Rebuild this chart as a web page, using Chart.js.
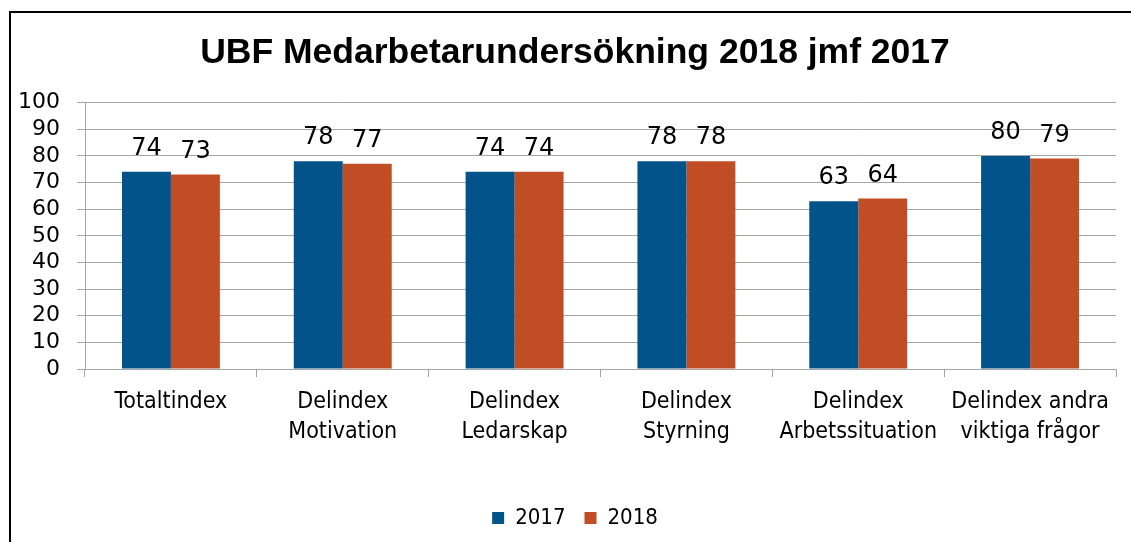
<!DOCTYPE html>
<html>
<head>
<meta charset="utf-8">
<script src="https://cdn.jsdelivr.net/npm/chart.js@4/dist/chart.umd.min.js"></script>
<style>
  body { margin: 0; background: #fff; }
  #wrap { position: relative; width: 1131px; height: 542px; overflow: hidden; }
  #frame { position: absolute; left: 9px; top: 11px; width: 1200px; height: 600px;
           border-left: 2px solid #000; border-top: 2px solid #000; pointer-events: none; }
  canvas { position: absolute; left: 0; top: 0; }
</style>
</head>
<body>
<div id="wrap">
  <canvas id="ubf_chart" width="1131" height="542"></canvas>
  <div id="frame"></div>
</div>
<script>

const categories = [
    'Totaltindex',
    ['Delindex', 'Motivation'],
    ['Delindex', 'Ledarskap'],
    ['Delindex', 'Styrning'],
    ['Delindex', 'Arbetssituation'],
    ['Delindex andra', 'viktiga frågor']
];
const values_2017 = [74, 78, 74, 78, 63, 80];
const values_2018 = [73, 77, 74, 78, 64, 79];
const y_ticks = [0, 10, 20, 30, 40, 50, 60, 70, 80, 90, 100];

const num_font = "'DejaVu Sans', sans-serif";
const text_font = "'DejaVu Sans Condensed', 'DejaVu Sans', sans-serif";
const title_font = "'Liberation Sans', Arial, sans-serif";

// writes each bar's value just above it
const value_labels = {
    id: 'value_labels',
    afterDatasetsDraw(chart) {
        const ctx = chart.ctx;
        ctx.save();
        ctx.font = '24px ' + num_font;
        ctx.fillStyle = '#000';
        ctx.textAlign = 'center';
        ctx.textBaseline = 'alphabetic';
        chart.data.datasets.forEach(function (ds, i) {
            chart.getDatasetMeta(i).data.forEach(function (bar, j) {
                ctx.fillText(String(ds.data[j]), bar.x, bar.y - 17);
            });
        });
        ctx.restore();
    }
};

// y axis box is narrow (left padding keeps the title centred), so let
// its tick labels use the space up to the canvas edge instead of clipping
const wide_y_labels = {
    id: 'wide_y_labels',
    afterLayout(chart) {
        chart.scales.y.left = 0;
    }
};

function init_ubf_chart() {

    var ubf_chart_elem = document.getElementById('ubf_chart').getContext("2d");

    const ubf_data = {
        labels: categories,
        datasets: [{
            label: '2017',
            data: values_2017,
            backgroundColor: '#02538a',
            categoryPercentage: 0.57,
            barPercentage: 1.0
        }, {
            label: '2018',
            data: values_2018,
            backgroundColor: '#c14d24',
            categoryPercentage: 0.57,
            barPercentage: 1.0
        }]
    };

    const ubf_config = {
        type: 'bar',
        data: ubf_data,
        plugins: [value_labels, wide_y_labels],
        options: {
            responsive: false,
            animation: false,
            layout: {
                padding: { left: 34, right: 15, top: 0, bottom: 3 }
            },
            scales: {
                y: {
                    min: 0,
                    max: 100,
                    afterFit: function (scale) { scale.width = 51; },
                    afterBuildTicks: function (scale) {
                        scale.ticks = y_ticks.map(function (v) { return { value: v }; });
                    },
                    grid: { color: '#a6a6a6', lineWidth: 1, tickLength: 8 },
                    border: { color: '#a6a6a6' },
                    ticks: {
                        color: '#000',
                        padding: 17,
                        autoSkip: false,
                        font: { family: num_font, size: 22 }
                    }
                },
                x: {
                    afterFit: function (scale) { scale.height = 119; },
                    grid: { color: '#a6a6a6', drawOnChartArea: false, tickLength: 8, offset: true },
                    border: { color: '#a6a6a6' },
                    ticks: {
                        color: '#000',
                        padding: 10,
                        maxRotation: 0,
                        autoSkip: false,
                        font: { family: text_font, size: 23, lineHeight: 1.3 }
                    }
                }
            },
            plugins: {
                legend: {
                    position: 'bottom',
                    labels: {
                        color: '#000',
                        boxWidth: 12,
                        boxHeight: 12,
                        padding: 19,
                        font: { family: text_font, size: 22 }
                    }
                },
                title: {
                    display: true,
                    text: 'UBF Medarbetarundersökning 2018 jmf 2017',
                    color: '#000',
                    font: { family: title_font, size: 35.5, weight: 'bold' },
                    padding: { top: 32, bottom: 28 }
                },
                tooltip: { enabled: false }
            }
        }
    };

    return new Chart(ubf_chart_elem, ubf_config);
}

init_ubf_chart();
</script>
</body>
</html>
